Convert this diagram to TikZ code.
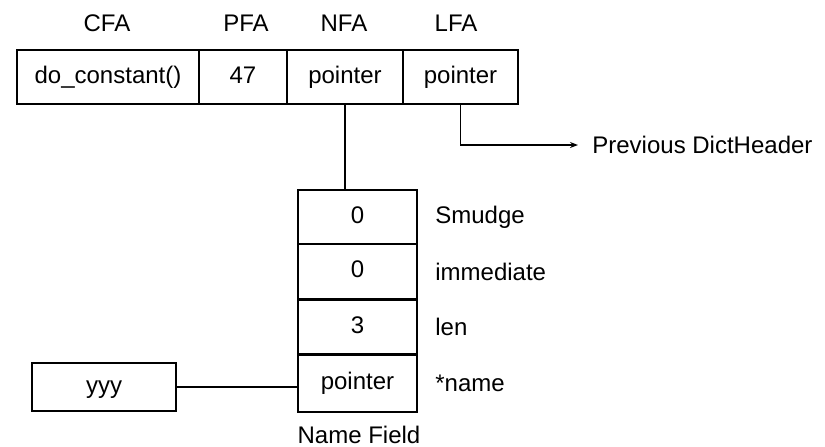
\documentclass[tikz,border=0pt]{standalone}
\usepackage{fontspec}
\setmainfont{Liberation Sans}
\usetikzlibrary{arrows.meta}
\begin{document}
\begin{tikzpicture}[x=0.5pt,y=-0.5pt,
  every node/.style={font=\fontsize{12}{14}\selectfont, inner sep=0pt},
  cell/.style={draw, line width=0.7pt, minimum height=27pt, text height=8.6pt, text depth=2.4pt},
  lab/.style={anchor=west},
  conn/.style={line width=0.7pt}]
\useasboundingbox (0,0) rectangle (825,446);
% header labels
\node (hcfa) at (107,23) {CFA};
\node (hpfa) at (246,23) {PFA};
\node (hnfa) at (344,23) {NFA};
\node (hlfa) at (456,23) {LFA};
% top row
\node[cell, minimum width=91pt] (cfa) at (108,77) {do\_constant()};
\node[cell, minimum width=44pt] (pfa) at (243,77) {47};
\node[cell, minimum width=58pt] (nfa) at (345,77) {pointer};
\node[cell, minimum width=57.5pt] (lfa) at (460.5,77) {pointer};
% name field
\node[cell, minimum width=59.5pt] (smudge) at (357.5,217) {0};
\node[cell, minimum width=59.5pt] (imm) at (357.5,271.5) {0};
\node[cell, minimum width=59.5pt] (len) at (357.5,327) {3};
\node[cell, minimum width=59.5pt, minimum height=28.5pt] (ptr) at (357.5,383.5) {pointer};
\node[lab] (lsmudge) at (435,217) {Smudge};
\node[lab] (limm) at (435,271.5) {immediate};
\node[lab] (llen) at (435,327) {len};
\node[lab] (lname) at (435,383.5) {*name};
\node (nf) at (359,435) {Name Field};
% yyy
\node[cell, minimum width=72pt, minimum height=24pt] (yyy) at (104,387) {yyy};
% previous
\node[lab] (prev) at (592,145) {Previous DictHeader};
\coordinate (arrowend) at (578,145);
% connectors
\draw[conn] (nfa.south) -- (nfa.south |- smudge.north);
\draw[conn, -{Stealth[length=4pt,width=3pt]}] (lfa.south) |- (arrowend);
\draw[conn] (yyy.east) -- (ptr.west |- yyy.east);
\end{tikzpicture}
\end{document}
